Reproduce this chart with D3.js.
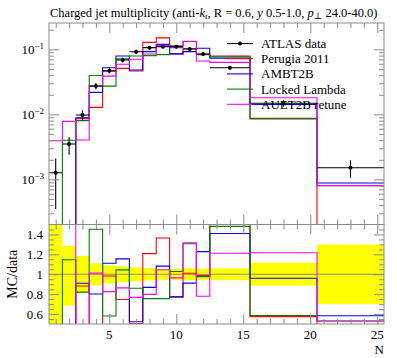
<!DOCTYPE html>
<html><head><meta charset="utf-8">
<script src="https://cdn.jsdelivr.net/npm/d3@7/dist/d3.min.js"></script>
<style>
body{margin:0;background:#fff;}
svg{display:block;font-family:"Liberation Serif","DejaVu Serif",serif;}
</style></head><body>
<svg id="c" width="397" height="358"></svg>
<script>
// ---- data ----
const binLow    = [0.5,1.5,2.5,3.5,4.5,5.5,6.5,7.5,8.5,9.5,10.5,11.5,12.5,15.5,20.5];
const binHigh   = [1.5,2.5,3.5,4.5,5.5,6.5,7.5,8.5,9.5,10.5,11.5,12.5,15.5,20.5,25.5];
const binCenter = [1,2,3,4,5,6,7,8,9,10,11,12,14,18,23];
const dataVals    = [1.26e-3,3.49e-3,9.75e-3,0.0272,0.0469,0.0684,0.0919,0.106,0.110,0.110,0.101,0.0847,0.052,0.0148,1.51e-3];
const dataErrUp   = [0.84e-3,1.0e-3,1.8e-3,3.0e-3,4.2e-3,5.5e-3,6.4e-3,6.4e-3,6.0e-3,6.0e-3,6.0e-3,4.7e-3,3.1e-3,1.7e-3,4.5e-4];
const dataErrDown = [0.91e-3,1.1e-3,1.8e-3,3.0e-3,4.2e-3,5.5e-3,6.4e-3,6.4e-3,6.0e-3,6.0e-3,6.0e-3,4.7e-3,3.1e-3,1.7e-3,4.5e-4];
const perugia2011  = [0,0,8.6e-3,0.0128,0.0461,0.051,0.0464,0.128,0.150,0.085,0.102,0.0835,0.079,8.5e-3,0];
const ambt2b       = [0,0,8.87e-3,0.0218,0.0521,0.079,0.048,0.092,0.119,0.085,0.092,0.104,0.0733,0.0142,8.8e-4];
const lockedLambda = [0,4.0e-3,8.0e-3,0.0395,0.0272,0.0714,0.079,0.080,0.083,0.113,0.132,0.0827,0.077,8.67e-3,8.0e-4];
const auet2bRetune = [3.93e-3,7.8e-3,4.03e-3,0.0275,0.0387,0.059,0.0705,0.0846,0.115,0.106,0.133,0.066,0.063,0.018,8.0e-4];
const seriesNames  = ["Perugia 2011","AMBT2B","Locked Lambda","AUET2B retune"];
const seriesColors = ["#ff0000","#0000ff","#008000","#ff00ff"];
const dataName = "ATLAS data";
const xMajorTicks = [5,10,15,20,25];
const mainYMajor = [1e-3,1e-2,1e-1];
const ratioYMajor = [0.6,0.8,1,1.2,1.4];

// ---- layout ----
const svg = d3.select("#c");
const L = 49, R = 384, T = 23, MB = 224.5, RB = 324;
const frameCol = "#8a8a8a";
const fontSz = 13;

const x = d3.scaleLinear().domain([0.5,25.5]).range([L,R]);
const y = d3.scaleLog().domain([2.02e-4,0.254]).range([MB,T]);
const yr = d3.scaleLinear().domain([0.5,1.5]).range([RB,MB]);

const defs = svg.append("defs");
defs.append("clipPath").attr("id","cm").append("rect").attr("x",L).attr("y",T).attr("width",R-L).attr("height",MB-T);
defs.append("clipPath").attr("id","cr").append("rect").attr("x",L).attr("y",MB).attr("width",R-L).attr("height",RB-MB);

const allSeries = [perugia2011, ambt2b, lockedLambda, auet2bRetune];

function stepPts(vals, sc, floor) {
  const pts = [];
  vals.forEach((v,i) => {
    const yy = sc(Math.max(v, floor));
    pts.push([x(binLow[i]), yy]);
    pts.push([x(binHigh[i]), yy]);
  });
  return pts;
}
const line = d3.line();

// ---- main panel ----
const gm = svg.append("g").attr("clip-path","url(#cm)");
allSeries.forEach((s,k) => {
  gm.append("path").attr("d", line(stepPts(s, y, 1e-6)))
    .attr("fill","none").attr("stroke",seriesColors[k]).attr("stroke-width",1.1);
});
// data
const gd = gm.append("g");
dataVals.forEach((v,i) => {
  gd.append("line").attr("x1",x(binLow[i])).attr("x2",x(binHigh[i])).attr("y1",y(v)).attr("y2",y(v))
    .attr("stroke","#000").attr("stroke-width",1.1);
  gd.append("line").attr("x1",x(binCenter[i])).attr("x2",x(binCenter[i]))
    .attr("y1",y(v+dataErrUp[i])).attr("y2",y(Math.max(v-dataErrDown[i],1e-6)))
    .attr("stroke","#000").attr("stroke-width",1.1);
  gd.append("circle").attr("cx",x(binCenter[i])).attr("cy",y(v)).attr("r",2).attr("fill","#000");
});

// ---- ratio panel ----
const gr = svg.append("g").attr("clip-path","url(#cr)");
dataVals.forEach((v,i) => {
  const up = 1 + dataErrUp[i]/v, dn = 1 - dataErrDown[i]/v;
  gr.append("rect").attr("x",x(binLow[i])).attr("width",x(binHigh[i])-x(binLow[i]))
    .attr("y",yr(up)).attr("height",yr(dn)-yr(up)).attr("fill","#ffff00");
});
gr.append("line").attr("x1",L).attr("x2",R).attr("y1",yr(1)).attr("y2",yr(1)).attr("stroke",frameCol).attr("stroke-width",1);
allSeries.forEach((s,k) => {
  const rat = s.map((v,i) => v/dataVals[i]);
  gr.append("path").attr("d", line(stepPts(rat, yr, -1)))
    .attr("fill","none").attr("stroke",seriesColors[k]).attr("stroke-width",1.1);
});

// ---- axes / ticks ----
function styleAxis(g) {
  g.select(".domain").remove();
  g.selectAll(".tick line").attr("stroke",frameCol);
  g.selectAll("text").remove();
  g.attr("font-family",null);
}
const xInts = d3.range(1,26);
const xMinor = xInts.filter(d => d%5!==0);
const logMinor = [];
[1e-4,1e-3,1e-2,1e-1].forEach(dec => { for (let k=2;k<=9;k++){ const v=k*dec; if (v>=2.02e-4 && v<=0.254) logMinor.push(v);} });
const rMinor = d3.range(11,30).map(d=>d*0.05).filter(d => Math.abs(d*5-Math.round(d*5))>1e-6);

function ticks(axisFn, scale, vals, size, tx, ty) {
  const g = svg.append("g").attr("transform",`translate(${tx},${ty})`)
    .call(axisFn(scale).tickValues(vals).tickSize(-size).tickFormat(""));
  styleAxis(g);
  return g;
}
// main
ticks(d3.axisLeft, y, mainYMajor, 10, L, 0);
ticks(d3.axisLeft, y, logMinor, 5, L, 0);
ticks(d3.axisRight, y, mainYMajor, 10, R, 0);
ticks(d3.axisRight, y, logMinor, 5, R, 0);
ticks(d3.axisTop, x, xMajorTicks, 10, 0, T);
ticks(d3.axisTop, x, xMinor, 5, 0, T);
ticks(d3.axisBottom, x, xMajorTicks, 10, 0, MB);
ticks(d3.axisBottom, x, xMinor, 5, 0, MB);
// ratio
ticks(d3.axisLeft, yr, ratioYMajor, 10, L, 0);
ticks(d3.axisLeft, yr, rMinor, 5, L, 0);
ticks(d3.axisRight, yr, ratioYMajor, 10, R, 0);
ticks(d3.axisRight, yr, rMinor, 5, R, 0);
ticks(d3.axisTop, x, xMajorTicks, 10, 0, MB);
ticks(d3.axisTop, x, xMinor, 5, 0, MB);
ticks(d3.axisBottom, x, xMajorTicks, 10, 0, RB);
ticks(d3.axisBottom, x, xMinor, 5, 0, RB);

// frames
svg.append("rect").attr("x",L).attr("y",T).attr("width",R-L).attr("height",MB-T).attr("fill","none").attr("stroke",frameCol).attr("stroke-width",1);
svg.append("rect").attr("x",L).attr("y",MB).attr("width",R-L).attr("height",RB-MB).attr("fill","none").attr("stroke",frameCol).attr("stroke-width",1);

// labels: main y
const gyl = svg.append("g");
mainYMajor.forEach(v => {
  const t = gyl.append("text").attr("x",L-5).attr("y",y(v)+4.5).attr("text-anchor","end").attr("font-size",fontSz);
  const e = Math.round(Math.log10(v));
  t.append("tspan").text("10");
  t.append("tspan").attr("dy",-5).attr("font-size",9).text("\u2212"+Math.abs(e));
});
// ratio y labels
ratioYMajor.forEach(v => {
  gyl.append("text").attr("x",L-6).attr("y",yr(v)+4.5).attr("text-anchor","end").attr("font-size",fontSz)
    .text(v===1?"1":v.toFixed(1));
});
// x labels
xMajorTicks.forEach(v => {
  gyl.append("text").attr("x",x(v)).attr("y",338.5).attr("text-anchor","middle").attr("font-size",fontSz).text(v);
});
svg.append("text").attr("x",R).attr("y",354).attr("text-anchor","end").attr("font-size",13).text("N");
svg.append("text").attr("transform",`translate(17,${yr(1)}) rotate(-90)`).attr("text-anchor","middle").attr("font-size",14).text("MC/data");

// title
const tt = svg.append("text").attr("x",50).attr("y",17).attr("font-size",12.5);
tt.append("tspan").text("Charged jet multiplicity (anti-");
tt.append("tspan").attr("font-style","italic").text("k");
tt.append("tspan").attr("font-style","italic").attr("font-size",9).attr("dy",2).text("t");
tt.append("tspan").attr("dy",-2).text(", R = 0.6, ");
tt.append("tspan").attr("font-style","italic").text("y");
tt.append("tspan").text(" 0.5-1.0, ");
tt.append("tspan").attr("font-style","italic").text("p");
tt.append("tspan").attr("font-size",9).attr("dy",2).text("\u22a5");
tt.append("tspan").attr("dy",-2).text(" 24.0-40.0)");

// legend
const lg = svg.append("g");
const lx0 = 227, lx1 = 253, ltx = 261, ly0 = 43.5, ldy = 15.2;
lg.append("line").attr("x1",lx0).attr("x2",lx1).attr("y1",ly0).attr("y2",ly0).attr("stroke","#000").attr("stroke-width",1.1);
lg.append("circle").attr("cx",(lx0+lx1)/2).attr("cy",ly0).attr("r",2).attr("fill","#000");
lg.append("text").attr("x",ltx).attr("y",ly0+4.5).attr("font-size",fontSz).text(dataName);
seriesNames.forEach((n,k) => {
  const yy = ly0 + (k+1)*ldy;
  lg.append("line").attr("x1",lx0).attr("x2",lx1).attr("y1",yy).attr("y2",yy).attr("stroke",seriesColors[k]).attr("stroke-width",1.1);
  lg.append("text").attr("x",ltx).attr("y",yy+4.5).attr("font-size",fontSz).text(n);
});
</script>
</body></html>
